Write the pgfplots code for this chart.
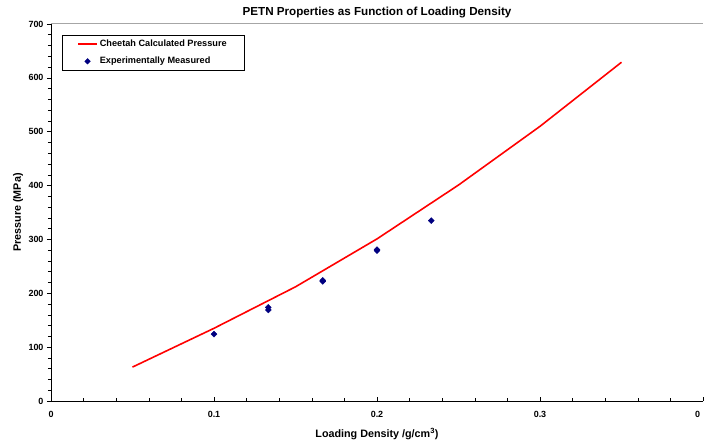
\documentclass[border=0pt]{standalone}
\usepackage{pgfplots}
\pgfplotsset{compat=1.18}
\usepackage{fontspec}
\setmainfont{Liberation Sans}
\definecolor{navy}{RGB}{0,0,128}
\begin{document}
\begin{tikzpicture}[x=1bp,y=1bp]
\begin{axis}[
  scale only axis,
  width=652bp, height=377bp,
  xmin=0, xmax=0.4, ymin=0, ymax=700,
  axis x line*=bottom, axis y line*=left,
  xtick={0,0.1,0.2,0.3,0.4},
  xticklabels={0,0.1,0.2,0.3,{\makebox[0pt][r]{0\hspace{3bp}}}},
  ytick={0,100,200,300,400,500,600,700},
  minor xtick={0.02,0.04,0.06,0.08,0.12,0.14,0.16,0.18,0.22,0.24,0.26,0.28,0.32,0.34,0.36,0.38},
  minor ytick={20,40,60,80,120,140,160,180,220,240,260,280,320,340,360,380,420,440,460,480,520,540,560,580,620,640,660,680},
  x tick style={black, line width=0.6pt},
  y tick style={black, line width=0.6pt},
  xtick align=inside, ytick align=outside,
  major tick length=4bp, minor tick length=3bp,
  axis line style={black, line width=0.8pt},
  tick label style={font=\fontsize{9}{10}\selectfont\bfseries},
  /pgf/number format/assume math mode=true,
  xticklabel style={yshift=-6.5bp},
  title={\fontsize{11.7}{13}\selectfont\bfseries PETN Properties as Function of Loading Density},
  title style={at={(rel axis cs:0.5,1)}, anchor=center, yshift=6bp},
  xlabel={\fontsize{10.8}{12}\selectfont\bfseries Loading Density /g/cm\textsuperscript{3})},
  ylabel={\fontsize{10.8}{12}\selectfont\bfseries Pressure (MPa)},
  xlabel style={at={(rel axis cs:0.5,0)}, anchor=center, yshift=-33bp},
  ylabel style={at={(rel axis cs:0,0.5)}, anchor=center, yshift=33bp},
  legend style={at={(rel axis cs:0.017,0.971)}, anchor=north west,
    font=\fontsize{9.2}{10}\selectfont\bfseries,
    inner xsep=15bp, inner ysep=3bp, row sep=5bp},
  legend cell align=left,
  clip=false,
]
\coordinate (ll) at (rel axis cs:0,0);
\coordinate (ur) at (rel axis cs:1,1);
\draw[gray!70, line width=1pt] (rel axis cs:0,1) -- (rel axis cs:1,1);
\addplot[red, line width=1.6pt, mark=none,
  legend image code/.code={\draw[draw=red, line width=1.6pt] (0bp,0bp) -- (19bp,0bp);}] coordinates {
  (0.05,63) (0.1,135) (0.15,212) (0.2,301) (0.25,401) (0.3,510) (0.35,629)
};
\addlegendentry{Cheetah Calculated Pressure}
\addplot[only marks, mark=square*, mark size=2.1bp, mark options={rotate=45, draw=navy, fill=navy, line width=0.4pt}, color=navy,
  legend image code/.code={\path[draw=none] (0bp,0bp) -- (19bp,0bp); \fill[navy] (9.5bp,2.8bp) -- (12.3bp,0bp) -- (9.5bp,-2.8bp) -- (6.7bp,0bp) -- cycle;}] coordinates {
  (0.1,124) (0.1333,174) (0.1333,169) (0.1667,224) (0.1667,222) (0.2,281) (0.2,279) (0.2333,335)
};
\addlegendentry{Experimentally Measured}
\end{axis}
\pgfresetboundingbox
\path ([shift={(-51bp,-41bp)}]ll) rectangle ([shift={(1bp,24bp)}]ur);
\end{tikzpicture}
\end{document}
